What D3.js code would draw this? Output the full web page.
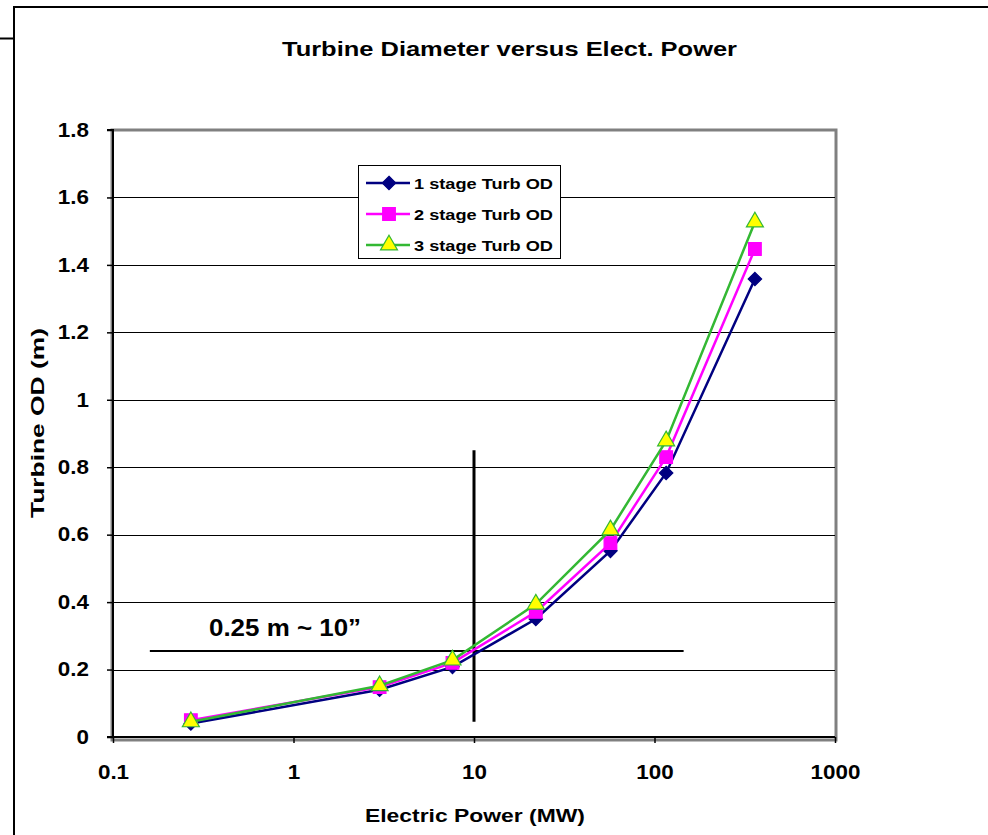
<!DOCTYPE html>
<html><head><meta charset="utf-8">
<script src="https://cdn.jsdelivr.net/npm/d3@7"></script>
<style>body{margin:0;background:#fff}svg{display:block}text{font-family:"Liberation Sans",Arial,sans-serif;font-weight:bold}</style>
</head><body><svg id="c" width="988" height="835"></svg>
<script>
const power = [0.27, 3, 7.6, 22, 57, 116, 360];
const stage1 = [0.04, 0.14, 0.208, 0.35, 0.552, 0.783, 1.358];
const stage2 = [0.05, 0.148, 0.22, 0.371, 0.575, 0.83, 1.447];
const stage3 = [0.045, 0.152, 0.228, 0.394, 0.614, 0.878, 1.527];
const seriesNames = ["1 stage Turb OD", "2 stage Turb OD", "3 stage Turb OD"];
const xTicks = [0.1, 1, 10, 100, 1000];
const yTicks = [0, 0.2, 0.4, 0.6, 0.8, 1, 1.2, 1.4, 1.6, 1.8];
const refLineH = {y: 0.255, x0: 0.16, x1: 145};
const refLineV = {x: 10, y0: 0.045, y1: 0.85};
const annotation = "0.25 m ~ 10\u201d";

const svg = d3.select("#c");
const L = 113, R = 835, T = 130, B = 737;
const x = d3.scaleLog().domain([0.1, 1000]).range([L, R]);
const y = d3.scaleLinear().domain([0, 1.8]).range([B, T]);

// outer chart border
svg.append("line").attr("x1",0).attr("x2",14).attr("y1",38.5).attr("y2",38.5).attr("stroke","#000").attr("stroke-width",2);
svg.append("line").attr("x1",14).attr("x2",14).attr("y1",6).attr("y2",835).attr("stroke","#000").attr("stroke-width",2);
svg.append("line").attr("x1",13).attr("x2",988).attr("y1",7).attr("y2",7).attr("stroke","#000").attr("stroke-width",2);

// title
svg.append("text").attr("x",509.5).attr("y",56).attr("text-anchor","middle").attr("font-size",21)
  .attr("textLength",455).attr("lengthAdjust","spacingAndGlyphs").text("Turbine Diameter versus Elect. Power");

// plot frame (gray)
svg.append("rect").attr("x",L-1).attr("y",T).attr("width",R-L+2).attr("height",B-T+3)
  .attr("fill","none").attr("stroke","#808080").attr("stroke-width",3);

// gridlines
svg.append("g").selectAll("line").data(yTicks.filter(d=>d>0 && d<1.8)).join("line")
  .attr("x1",L).attr("x2",R).attr("y1",d=>Math.round(y(d))+0.5).attr("y2",d=>Math.round(y(d))+0.5)
  .attr("stroke","#000").attr("stroke-width",1);

// axes
function styleTicks(g, anchor){
  g.selectAll(".tick line").attr("stroke","#000").attr("stroke-width",1.5);
  g.selectAll(".tick text").each(function(){
    const t = d3.select(this);
    const tx = +t.attr("x")||0, ty = +t.attr("y")||0;
    t.attr("x",null).attr("y",null)
     .attr("transform",`translate(${tx},${ty}) scale(1.15,1)`)
     .attr("font-size",19.5).attr("fill","#000")
     .attr("font-family","Liberation Sans, Arial").attr("font-weight","bold");
  });
}
const yAxis = d3.axisLeft(y).tickValues(yTicks).tickFormat(d=>d3.format("~g")(d)).tickSize(6).tickPadding(18);
const gy = svg.append("g").attr("transform",`translate(${L},0)`).call(yAxis);
gy.select(".domain").attr("stroke","#000").attr("stroke-width",2).attr("d",`M-6,${T}H0V${B}H-6`);
styleTicks(gy);

const xAxis = d3.axisBottom(x).tickValues(xTicks).tickFormat(d=>d3.format("~g")(d)).tickSize(6).tickPadding(22);
const gx = svg.append("g").attr("transform",`translate(0,${B})`).call(xAxis);
gx.select(".domain").attr("stroke","#000").attr("stroke-width",2).attr("d",`M${L},0H${R}`);
styleTicks(gx);

// axis titles
svg.append("text").attr("x",475).attr("y",822).attr("text-anchor","middle").attr("font-size",19)
  .attr("textLength",220).attr("lengthAdjust","spacingAndGlyphs").text("Electric Power (MW)");
svg.append("text").attr("transform","translate(44,423) rotate(-90)").attr("text-anchor","middle").attr("font-size",19)
  .attr("textLength",190).attr("lengthAdjust","spacingAndGlyphs").text("Turbine OD (m)");

// reference lines
svg.append("line").attr("x1",x(refLineH.x0)).attr("x2",x(refLineH.x1)).attr("y1",y(refLineH.y)).attr("y2",y(refLineH.y)).attr("stroke","#000").attr("stroke-width",2);
svg.append("line").attr("x1",x(refLineV.x)).attr("x2",x(refLineV.x)).attr("y1",y(refLineV.y0)).attr("y2",y(refLineV.y1)).attr("stroke","#000").attr("stroke-width",3);
svg.append("text").attr("x",209).attr("y",636).attr("font-size",24)
  .attr("textLength",152).attr("lengthAdjust","spacingAndGlyphs").text(annotation);

// series
const diamond = {draw(ctx, size){ const r = Math.sqrt(size/2); ctx.moveTo(0,-r); ctx.lineTo(r,0); ctx.lineTo(0,r); ctx.lineTo(-r,0); ctx.closePath(); }};
const series = [
  {name: seriesNames[0], vals: stage1, color:"#000080", sym: diamond, size: 90, fill:"#000080", stroke:"#000080"},
  {name: seriesNames[1], vals: stage2, color:"#FF00FF", sym: d3.symbolSquare, size: 160, fill:"#FF00FF", stroke:"#FF00FF"},
  {name: seriesNames[2], vals: stage3, color:"#33B833", sym: d3.symbolTriangle, size: 125, fill:"#FFFF00", stroke:"#33B833"}
];
const line = d3.line().x(d=>x(d[0])).y(d=>y(d[1]));
series.forEach(s=>{
  const pts = power.map((p,i)=>[p, s.vals[i]]);
  svg.append("path").datum(pts).attr("d",line).attr("fill","none").attr("stroke",s.color).attr("stroke-width",2.5);
  svg.append("g").selectAll("path").data(pts).join("path")
    .attr("transform",d=>`translate(${x(d[0])},${y(d[1])})`)
    .attr("d",d3.symbol().type(s.sym).size(s.size)())
    .attr("fill",s.fill).attr("stroke",s.stroke).attr("stroke-width",1.2);
});

// legend
const lg = svg.append("g");
lg.append("rect").attr("x",358.5).attr("y",165.5).attr("width",202).attr("height",93).attr("fill","#fff").attr("stroke","#000").attr("stroke-width",1);
series.forEach((s,i)=>{
  const yy = 183 + i*31;
  lg.append("line").attr("x1",366).attr("x2",410).attr("y1",yy).attr("y2",yy).attr("stroke",s.color).attr("stroke-width",2.5);
  lg.append("path").attr("transform",`translate(389,${yy})`).attr("d",d3.symbol().type(s.sym).size(s.size)())
    .attr("fill",s.fill).attr("stroke",s.stroke).attr("stroke-width",1.2);
  lg.append("text").attr("x",414).attr("y",yy+6).attr("font-size",15.5)
    .attr("textLength",139).attr("lengthAdjust","spacingAndGlyphs").text(s.name);
});
</script></body></html>
